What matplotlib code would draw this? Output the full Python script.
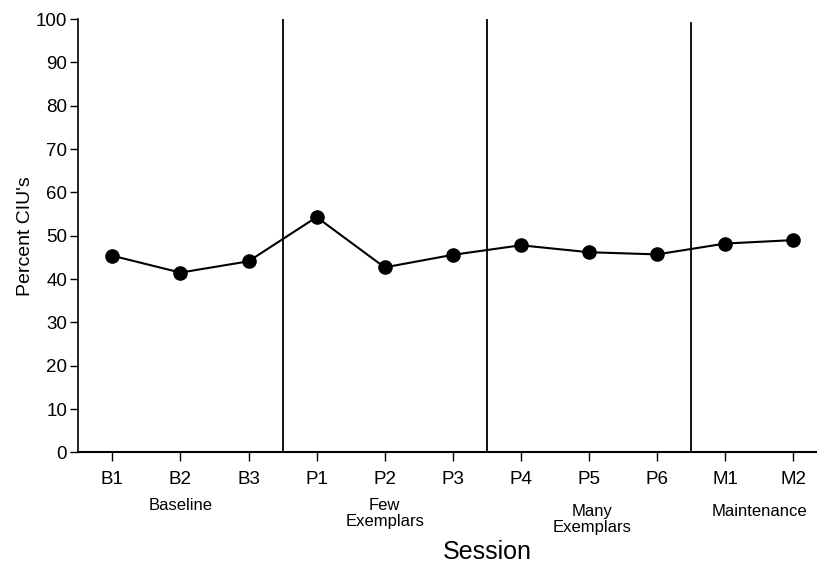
import matplotlib
matplotlib.use('Agg')
import matplotlib.pyplot as plt

plt.rcParams['font.family'] = ['Liberation Sans', 'DejaVu Sans']

# DATA
sessions = ['B1', 'B2', 'B3', 'P1', 'P2', 'P3', 'P4', 'P5', 'P6', 'M1', 'M2']
percent_cius = [45.4, 41.5, 44.1, 54.3, 42.7, 45.6, 47.8, 46.2, 45.7, 48.2, 49.0]
phase_names = ['Baseline', 'Few\nExemplars', 'Many\nExemplars', 'Maintenance']
phase_centers = [1, 4, 7.05, 9.5]
phase_breaks = [2.5, 5.5, 8.5]
y_ticks = list(range(0, 101, 10))

x = list(range(len(sessions)))

fig = plt.figure(figsize=(8.17, 5.64), dpi=100)
ax = fig.add_axes([0.0958, 0.1977, 0.9168, 0.7686])

# data line with filled dots
ax.plot(x, percent_cius, color='black', linewidth=1.5, marker='o',
        markersize=9.5, markerfacecolor='black', zorder=3)

# phase change lines
for b, top in zip(phase_breaks, [100, 100, 99]):
    ax.plot([b, b], [0, top], color='black', linewidth=1.3)

ax.set_xlim(-0.5, 10.5)
ax.set_ylim(0, 100)
ax.set_xticks(x)
ax.set_xticklabels(sessions, fontsize=13.5)
ax.set_yticks(y_ticks)
ax.set_yticklabels([str(t) for t in y_ticks], fontsize=13.5)

ax.spines['top'].set_visible(False)
ax.spines['right'].set_visible(False)
ax.spines['left'].set_linewidth(1.2)
ax.spines['bottom'].set_linewidth(1.5)
ax.tick_params(axis='x', direction='out', length=6.5, width=1, pad=7)
ax.tick_params(axis='y', direction='out', length=6, width=1, pad=2)

ax.set_ylabel("Percent CIU's", fontsize=14, labelpad=1)

# phase labels under the session ticks
offsets = [38.5, 43.8, 48.4, 42.6]
for name, cx, off in zip(phase_names, phase_centers, offsets):
    ax.annotate(name, xy=(cx, 0), xycoords=('data', 'axes fraction'),
                xytext=(0, -off), textcoords='offset points',
                ha='center', va='center', fontsize=12, linespacing=1.1)

ax.annotate('Session', xy=(5.5, 0), xycoords=('data', 'axes fraction'),
            xytext=(0, -71.5), textcoords='offset points',
            ha='center', va='center', fontsize=18)

plt.savefig('out.png', dpi=100)
